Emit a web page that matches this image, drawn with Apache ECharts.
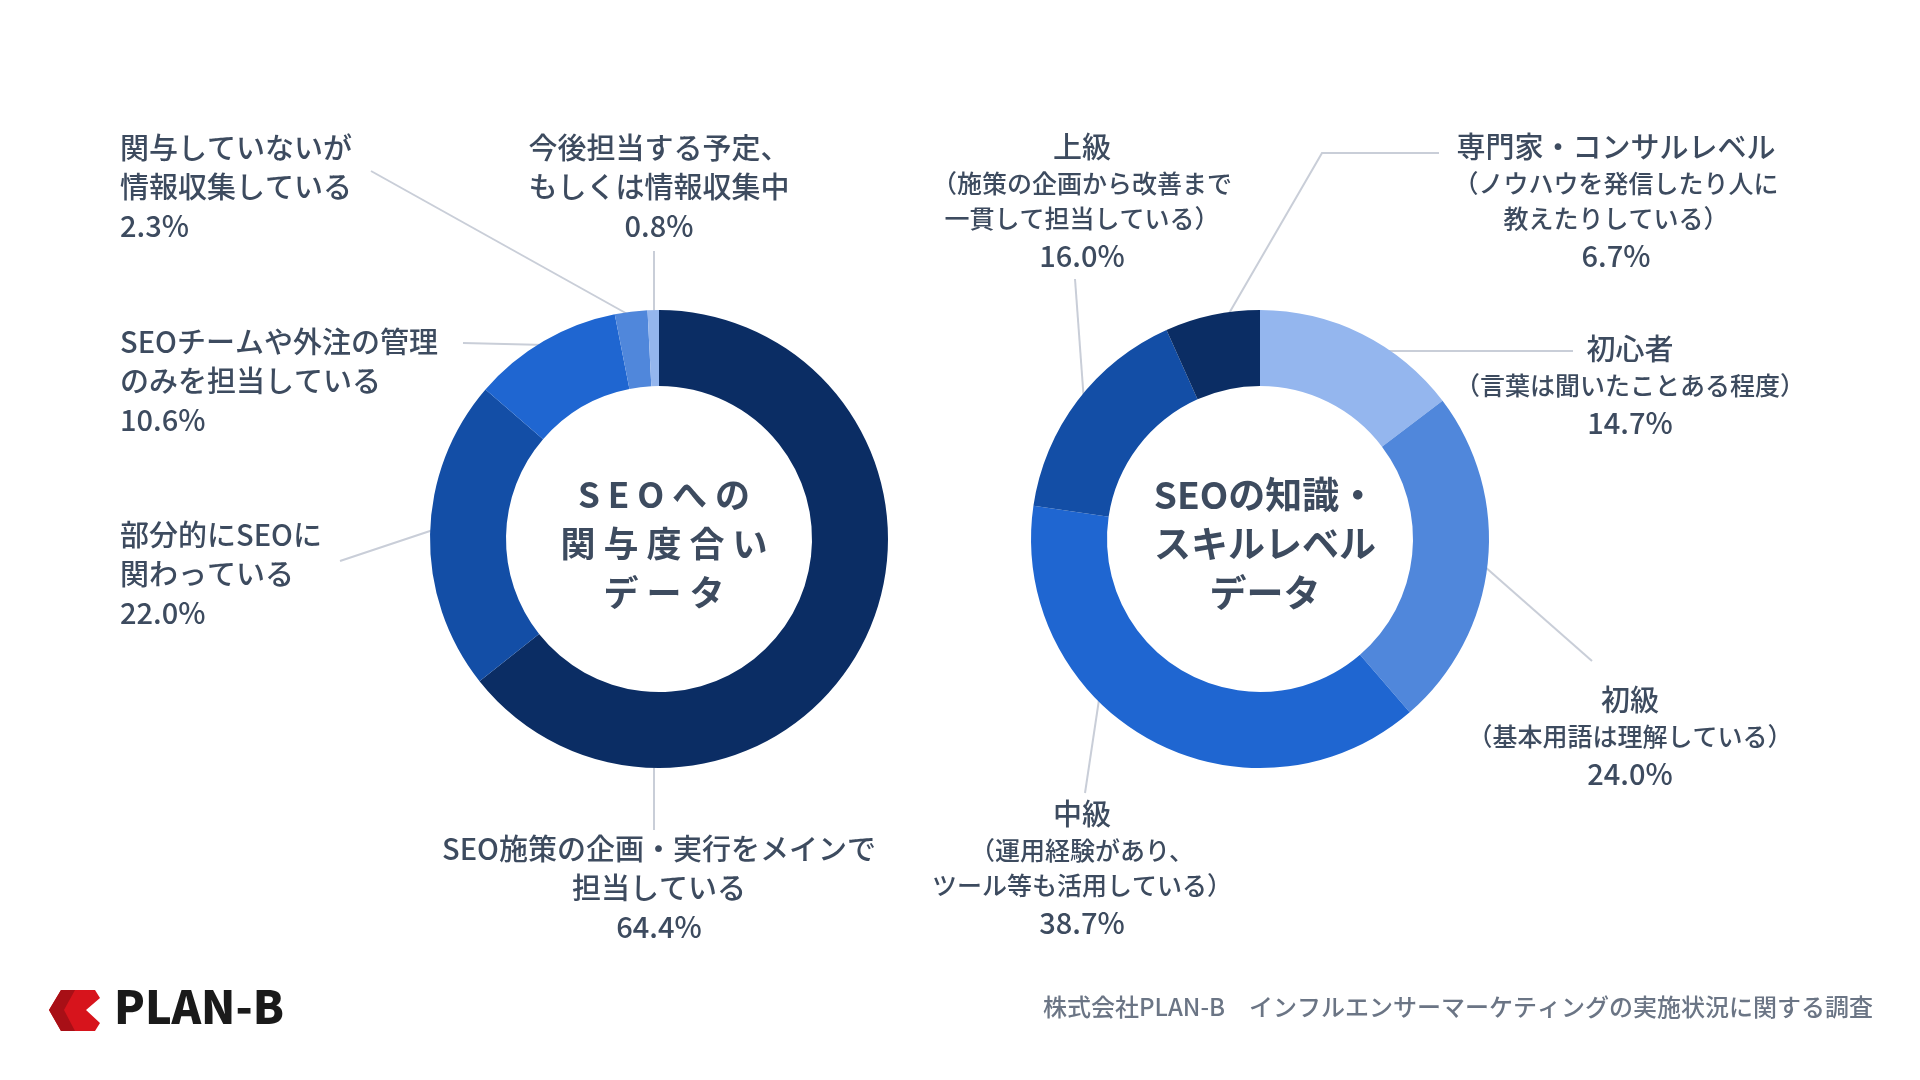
<!DOCTYPE html>
<html><head><meta charset="utf-8">
<script src="https://cdn.jsdelivr.net/npm/echarts@6/dist/echarts.min.js"></script>
<style>html,body{margin:0;padding:0;background:#fff}#c{width:1920px;height:1080px}</style>
</head><body><div id="c"></div>
<script>
const leftNames = ['SEO施策の企画・実行をメインで\n担当している','部分的にSEOに\n関わっている','SEOチームや外注の管理\nのみを担当している','関与していないが\n情報収集している','今後担当する予定、\nもしくは情報収集中'];
const leftValues = [64.4, 22.0, 10.6, 2.3, 0.8];
const leftColors = ['#0b2d64','#134ea6','#1f66d1','#5087db','#94b6ee'];
const rightTitles = ['初心者','初級','中級','上級','専門家・コンサルレベル'];
const rightSubs = ['（言葉は聞いたことある程度）','（基本用語は理解している）','（運用経験があり、\nツール等も活用している）','（施策の企画から改善まで\n一貫して担当している）','（ノウハウを発信したり人に\n教えたりしている）'];
const rightValues = [14.7, 24.0, 38.7, 16.0, 6.7];
const rightColors = ['#94b6ee','#5087db','#1f66d1','#134ea6','#0b2d64'];
const centerTitles = ['S E O へ の\n関 与 度 合 い\nデ ー タ','SEOの知識・\nスキルレベル\nデータ'];
const sourceText = '株式会社PLAN-B　インフルエンサーマーケティングの実施状況に関する調査';

const txt = '#3d4b5f', lineC = '#c9ced8';
const FF = '"Noto Sans CJK JP", "Noto Sans", sans-serif';
const leftPos = [
  {x:659,y:888,align:'center',pts:[[654,762],[654,830]]},
  {x:120,y:574,align:'left',pts:[[436,529],[340,561]]},
  {x:120,y:381,align:'left',pts:[[546,345],[463,343]]},
  {x:120,y:187,align:'left',pts:[[631,316],[371,171]]},
  {x:659,y:187,align:'center',pts:[[654,316],[654,251]]}
];
const rightPos = [
  {x:1630,y:386,align:'center',pts:[[1384,351],[1573,351]]},
  {x:1630,y:737,align:'center',pts:[[1484,566],[1592,661]]},
  {x:1082,y:869,align:'center',pts:[[1100,693],[1085,793]]},
  {x:1082,y:202,align:'center',pts:[[1084,402],[1075,279]]},
  {x:1616,y:202,align:'center',pts:[[1224,322],[1322,153],[1439,153]]}
];
function layout(pos){
  return function(p){
    const q = pos[p.dataIndex];
    return {x:q.x, y:q.y, align:q.align, verticalAlign:'middle', labelLinePoints:q.pts};
  };
}
const chart = echarts.init(document.getElementById('c'));
chart.setOption({
  backgroundColor:'#fff',
  textStyle:{fontFamily:FF},
  title:[
    {text:centerTitles[0],left:659,top:539,textAlign:'center',textVerticalAlign:'middle',
     textStyle:{fontFamily:FF,fontSize:35,fontWeight:'bold',color:txt,lineHeight:49}},
    {text:centerTitles[1],left:1260,top:539,textAlign:'center',textVerticalAlign:'middle',
     textStyle:{fontFamily:FF,fontSize:37,fontWeight:'bold',color:txt,lineHeight:49}}
  ],
  series:[
    {type:'pie',center:[659,539],radius:[153,229],startAngle:90,clockwise:true,
     silent:true,animation:false,
     data:leftNames.map((n,i)=>({name:n,value:leftValues[i],itemStyle:{color:leftColors[i]}})),
     label:{show:true,position:'outside',formatter:p=>p.name+'\n'+p.value.toFixed(1)+'%',
       fontFamily:FF,fontSize:29,fontWeight:500,lineHeight:39,color:txt},
     labelLine:{show:true,lineStyle:{color:lineC,width:2}},
     labelLayout:layout(leftPos)},
    {type:'pie',center:[1260,539],radius:[153,229],startAngle:90,clockwise:true,
     silent:true,animation:false,
     data:rightTitles.map((n,i)=>({name:n,value:rightValues[i],itemStyle:{color:rightColors[i]}})),
     label:{show:true,position:'outside',
       formatter:p=>'{t|'+p.name+'}\n'+rightSubs[p.dataIndex].split('\n').map(s=>'{s|'+s+'}').join('\n')+'\n{p|'+p.value.toFixed(1)+'%}',
       rich:{t:{fontFamily:FF,fontSize:29,fontWeight:500,lineHeight:38,color:txt},
             s:{fontFamily:FF,fontSize:25,fontWeight:500,lineHeight:35,color:txt},
             p:{fontFamily:FF,fontSize:29,fontWeight:500,lineHeight:40,color:txt}},
       color:txt},
     labelLine:{show:true,lineStyle:{color:lineC,width:2}},
     labelLayout:layout(rightPos)}
  ],
  graphic:[
    {type:'polygon',shape:{points:[[49,1010],[61,990],[95,990],[100,998],[86,1010],[100,1023],[95,1031],[61,1031]]},style:{fill:'#d7141c'}},
    {type:'polygon',shape:{points:[[49,1010],[61,990],[75,990],[64,1010],[75,1031],[61,1031]]},style:{fill:'#a80f16'}},
    {type:'text',left:114,top:984,style:{text:'PLAN-B',font:'900 45px '+FF,fill:'#1a1a1a'}},
    {type:'text',right:47,top:995,style:{text:sourceText,font:'500 24px '+FF,fill:'#6b7585'}}
  ]
});
</script></body></html>
